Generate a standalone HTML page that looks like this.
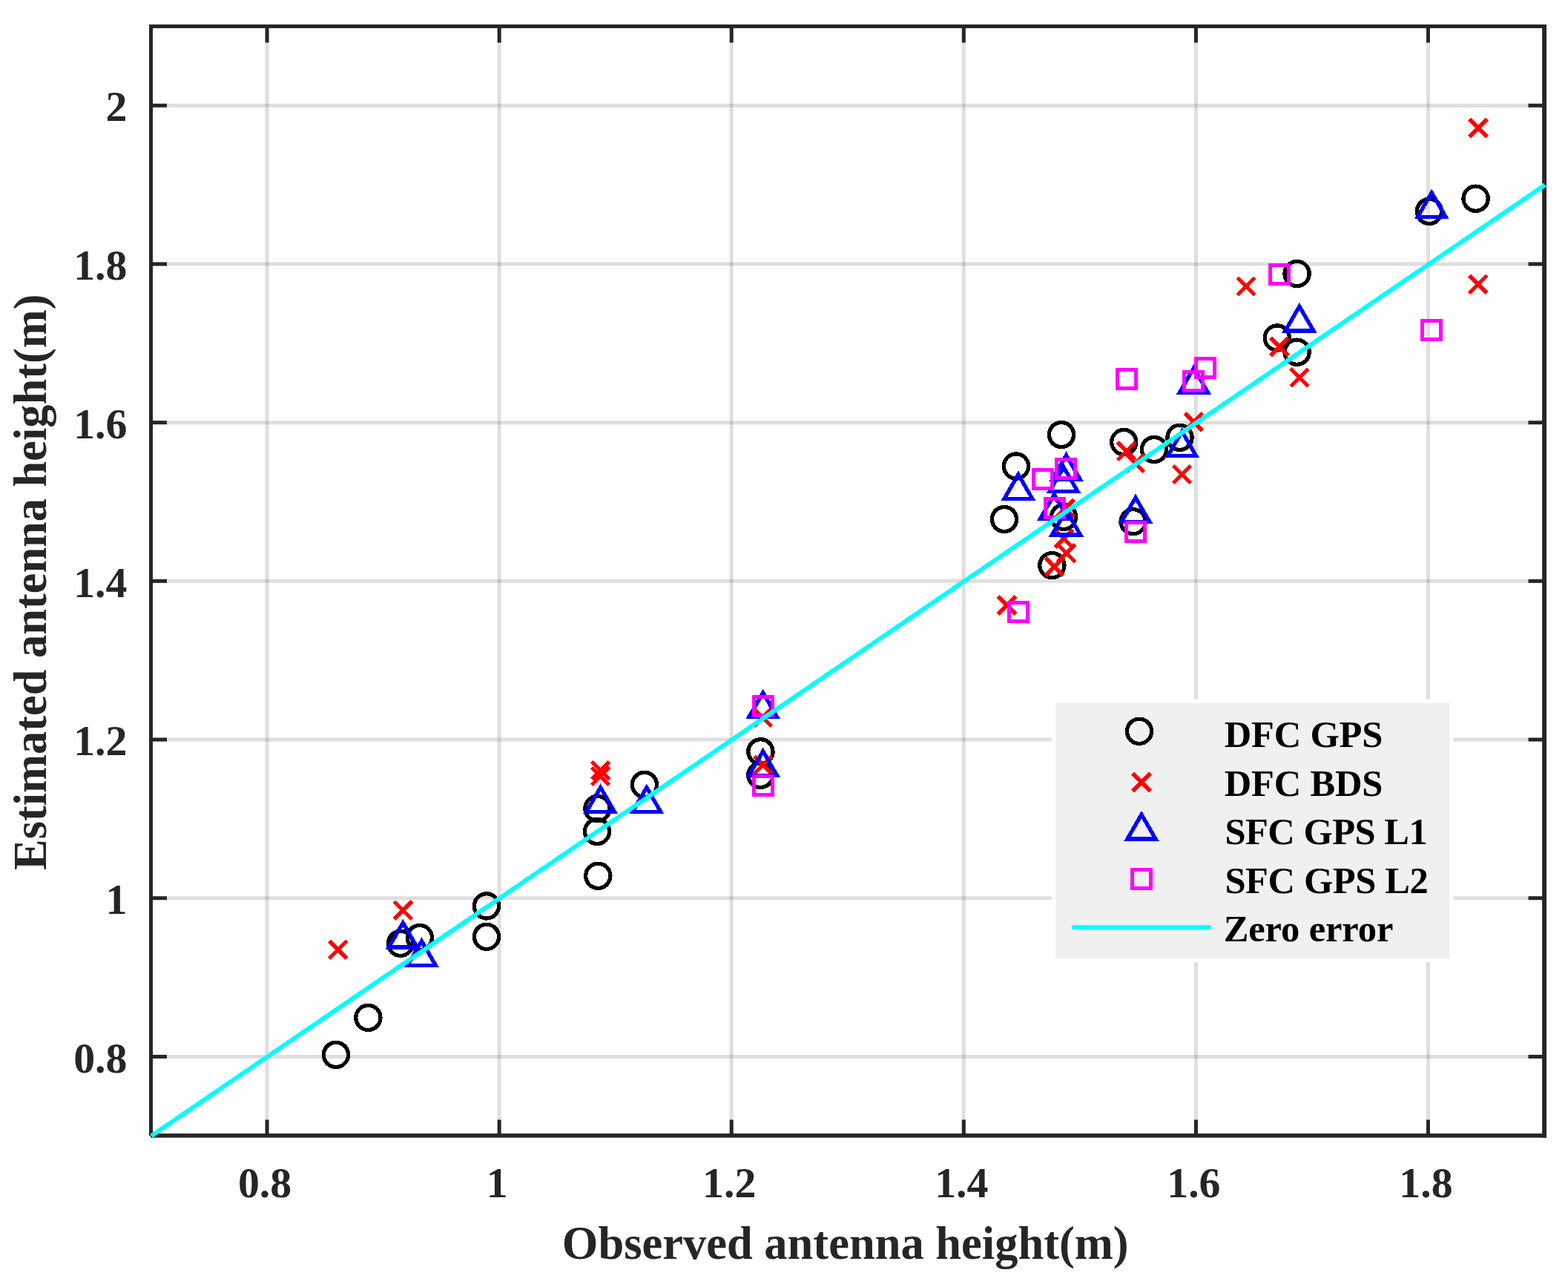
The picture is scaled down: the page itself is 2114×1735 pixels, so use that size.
<!DOCTYPE html>
<html><head><meta charset="utf-8"><title>Estimated vs observed antenna height</title>
<style>html,body{margin:0;padding:0;background:#fff;}svg{display:block;}
text{font-family:"Liberation Serif","Times New Roman",serif;font-weight:bold;}</style>
</head><body>
<svg width="2114" height="1735" viewBox="0 0 2114 1735">
<rect width="2114" height="1735" fill="#fff"/>

<g stroke="#262626" stroke-opacity="0.15" stroke-width="5" fill="none">
<line x1="360.04" y1="38" x2="360.04" y2="1528.1"/>
<line x1="673.12" y1="38" x2="673.12" y2="1528.1"/>
<line x1="986.21" y1="38" x2="986.21" y2="1528.1"/>
<line x1="1299.29" y1="38" x2="1299.29" y2="1528.1"/>
<line x1="1612.38" y1="38" x2="1612.38" y2="1528.1"/>
<line x1="1925.46" y1="38" x2="1925.46" y2="1528.1"/>
<line x1="206" y1="1424.45" x2="2079.1" y2="1424.45"/>
<line x1="206" y1="1210.75" x2="2079.1" y2="1210.75"/>
<line x1="206" y1="997.05" x2="2079.1" y2="997.05"/>
<line x1="206" y1="783.35" x2="2079.1" y2="783.35"/>
<line x1="206" y1="569.65" x2="2079.1" y2="569.65"/>
<line x1="206" y1="355.95" x2="2079.1" y2="355.95"/>
<line x1="206" y1="142.25" x2="2079.1" y2="142.25"/>
</g>
<g fill="#262626"><rect x="201" y="33" width="1884" height="5"/><rect x="201" y="33" width="5" height="1498"/><rect x="203" y="1528.1" width="1882" height="5.6"/><rect x="2079.1" y="33" width="5.9" height="1500.7"/></g>
<g stroke="#262626" stroke-width="5" fill="none" stroke-linecap="square">
<line x1="360.04" y1="1529" x2="360.04" y2="1512"/>
<line x1="360.04" y1="38" x2="360.04" y2="55"/>
<line x1="673.12" y1="1529" x2="673.12" y2="1512"/>
<line x1="673.12" y1="38" x2="673.12" y2="55"/>
<line x1="986.21" y1="1529" x2="986.21" y2="1512"/>
<line x1="986.21" y1="38" x2="986.21" y2="55"/>
<line x1="1299.29" y1="1529" x2="1299.29" y2="1512"/>
<line x1="1299.29" y1="38" x2="1299.29" y2="55"/>
<line x1="1612.38" y1="1529" x2="1612.38" y2="1512"/>
<line x1="1612.38" y1="38" x2="1612.38" y2="55"/>
<line x1="1925.46" y1="1529" x2="1925.46" y2="1512"/>
<line x1="1925.46" y1="38" x2="1925.46" y2="55"/>
<line x1="206" y1="1424.45" x2="222.5" y2="1424.45"/>
<line x1="2079.5" y1="1424.45" x2="2063" y2="1424.45"/>
<line x1="206" y1="1210.75" x2="222.5" y2="1210.75"/>
<line x1="2079.5" y1="1210.75" x2="2063" y2="1210.75"/>
<line x1="206" y1="997.05" x2="222.5" y2="997.05"/>
<line x1="2079.5" y1="997.05" x2="2063" y2="997.05"/>
<line x1="206" y1="783.35" x2="222.5" y2="783.35"/>
<line x1="2079.5" y1="783.35" x2="2063" y2="783.35"/>
<line x1="206" y1="569.65" x2="222.5" y2="569.65"/>
<line x1="2079.5" y1="569.65" x2="2063" y2="569.65"/>
<line x1="206" y1="355.95" x2="222.5" y2="355.95"/>
<line x1="2079.5" y1="355.95" x2="2063" y2="355.95"/>
<line x1="206" y1="142.25" x2="222.5" y2="142.25"/>
<line x1="2079.5" y1="142.25" x2="2063" y2="142.25"/>
</g>
<g fill="#262626" font-size="57.8">
<text x="357.04" y="1614.1" text-anchor="middle">0.8</text>
<text x="670.12" y="1614.1" text-anchor="middle">1</text>
<text x="983.21" y="1614.1" text-anchor="middle">1.2</text>
<text x="1296.29" y="1614.1" text-anchor="middle">1.4</text>
<text x="1609.38" y="1614.1" text-anchor="middle">1.6</text>
<text x="1922.46" y="1614.1" text-anchor="middle">1.8</text>
<text x="171.4" y="1445.65" text-anchor="end">0.8</text>
<text x="171.4" y="1231.95" text-anchor="end">1</text>
<text x="171.4" y="1018.25" text-anchor="end">1.2</text>
<text x="171.4" y="804.55" text-anchor="end">1.4</text>
<text x="171.4" y="590.85" text-anchor="end">1.6</text>
<text x="171.4" y="377.15" text-anchor="end">1.8</text>
<text x="171.4" y="163.45" text-anchor="end">2</text>
</g>
<text x="757.8" y="1697" font-size="62.5" fill="#262626">Observed antenna height(m)</text>
<text transform="translate(62 1172.9) rotate(-90)" font-size="62.4" fill="#262626">Estimated antenna height(m)</text>
<g fill="none" stroke="#000" stroke-width="5.3" shape-rendering="crispEdges"><circle cx="452.9" cy="1421.9" r="16.6"/><circle cx="496.4" cy="1371.9" r="16.6"/><circle cx="540" cy="1271.8" r="16.6"/><circle cx="565.8" cy="1264" r="16.6"/><circle cx="656" cy="1221.4" r="16.6"/><circle cx="656" cy="1262.8" r="16.6"/><circle cx="805.5" cy="1090" r="16.6"/><circle cx="805" cy="1120.9" r="16.6"/><circle cx="806.3" cy="1180.8" r="16.6"/><circle cx="868.9" cy="1057.8" r="16.6"/><circle cx="1025.4" cy="1013.3" r="16.6"/><circle cx="1025.4" cy="1044.9" r="16.6"/><circle cx="1370" cy="628.5" r="16.6"/><circle cx="1354" cy="700" r="16.6"/><circle cx="1431" cy="586" r="16.6"/><circle cx="1434" cy="697" r="16.6"/><circle cx="1418.4" cy="762.1" r="16.6"/><circle cx="1515.3" cy="596" r="16.6"/><circle cx="1556" cy="606" r="16.6"/><circle cx="1590.5" cy="589.8" r="16.6"/><circle cx="1527.7" cy="703.2" r="16.6"/><circle cx="1748.6" cy="369" r="16.6"/><circle cx="1721.8" cy="455.5" r="16.6"/><circle cx="1748.6" cy="474.7" r="16.6"/><circle cx="1989.6" cy="267.7" r="16.6"/><circle cx="1926.9" cy="284.9" r="16.6"/></g>
<g fill="none" stroke="#f00" stroke-width="5.3" shape-rendering="crispEdges"><path d="M443.9 1268.2L467.7 1292M443.9 1292L467.7 1268.2"/><path d="M531.5 1215.3L555.3 1239.1M531.5 1239.1L555.3 1215.3"/><path d="M797.7 1026.8L821.5 1050.6M797.7 1050.6L821.5 1026.8"/><path d="M797.7 1034.5L821.5 1058.3M797.7 1058.3L821.5 1034.5"/><path d="M1016.5 955.3L1040.3 979.1M1016.5 979.1L1040.3 955.3"/><path d="M1016.8 1019.3L1040.6 1043.1M1016.8 1043.1L1040.6 1019.3"/><path d="M1424.1 673.6L1447.9 697.4M1424.1 697.4L1447.9 673.6"/><path d="M1422.5 714.3L1446.3 738.1M1422.5 738.1L1446.3 714.3"/><path d="M1425.8 733.8L1449.6 757.6M1425.8 757.6L1449.6 733.8"/><path d="M1409.6 752.1L1433.4 775.9M1409.6 775.9L1433.4 752.1"/><path d="M1345.6 803.9L1369.4 827.7M1345.6 827.7L1369.4 803.9"/><path d="M1506.7 596.3L1530.5 620.1M1506.7 620.1L1530.5 596.3"/><path d="M1518.7 612.7L1542.5 636.5M1518.7 636.5L1542.5 612.7"/><path d="M1581.7 627.7L1605.5 651.5M1581.7 651.5L1605.5 627.7"/><path d="M1597.5 556.9L1621.3 580.7M1597.5 580.7L1621.3 556.9"/><path d="M1668.1 374.1L1691.9 397.9M1668.1 397.9L1691.9 374.1"/><path d="M1713.2 455.7L1737 479.5M1713.2 479.5L1737 455.7"/><path d="M1740 497L1763.8 520.8M1740 520.8L1763.8 497"/><path d="M1981.1 160.5L2004.9 184.3M1981.1 184.3L2004.9 160.5"/><path d="M1980.9 371.2L2004.7 395M1980.9 395L2004.7 371.2"/></g>
<g fill="none" stroke="#00f" stroke-width="5.3" stroke-linejoin="miter" shape-rendering="crispEdges"><path d="M543.3 1244L562.35 1277L524.25 1277Z"/><path d="M568.5 1268.7L587.55 1301.7L549.45 1301.7Z"/><path d="M809.6 1061.6L828.65 1094.6L790.55 1094.6Z"/><path d="M871.8 1061.6L890.85 1094.6L852.75 1094.6Z"/><path d="M1028.7 933.8L1047.75 966.8L1009.65 966.8Z"/><path d="M1028.7 1012.7L1047.75 1045.7L1009.65 1045.7Z"/><path d="M1372.9 639.6L1391.95 672.6L1353.85 672.6Z"/><path d="M1437.5 613.8L1456.55 646.8L1418.45 646.8Z"/><path d="M1434 629.7L1453.05 662.7L1414.95 662.7Z"/><path d="M1421.3 666.7L1440.35 699.7L1402.25 699.7Z"/><path d="M1437.5 687.9L1456.55 720.9L1418.45 720.9Z"/><path d="M1593.6 581.6L1612.65 614.6L1574.55 614.6Z"/><path d="M1531 670.8L1550.05 703.8L1511.95 703.8Z"/><path d="M1609.4 496.1L1628.45 529.1L1590.35 529.1Z"/><path d="M1751.9 413L1770.95 446L1732.85 446Z"/><path d="M1930.2 259.8L1949.25 292.8L1911.15 292.8Z"/></g>
<g fill="none" stroke="#f0f" stroke-width="5.3" shape-rendering="crispEdges"><rect x="1016.5" y="939.4" width="25" height="25"/><rect x="1016.5" y="1046.3" width="25" height="25"/><rect x="1393.3" y="633.4" width="25" height="25"/><rect x="1424.5" y="619.3" width="25" height="25"/><rect x="1409.5" y="672.5" width="25" height="25"/><rect x="1360.3" y="812.3" width="25" height="25"/><rect x="1506.4" y="498.5" width="25" height="25"/><rect x="1518.3" y="704.4" width="25" height="25"/><rect x="1596.5" y="501.4" width="25" height="25"/><rect x="1612.4" y="483.4" width="25" height="25"/><rect x="1712.4" y="357.3" width="25" height="25"/><rect x="1917.3" y="432.4" width="25" height="25"/></g>
<line x1="204" y1="1531.3" x2="2083" y2="249.3" stroke="#0ff" stroke-width="6" stroke-linecap="butt" shape-rendering="crispEdges"/>
<rect x="1420.5" y="945" width="536.5" height="349.5" fill="#f0f0f0" stroke="#fff" stroke-width="5"/>
<g fill="none" stroke-width="5.3" shape-rendering="crispEdges">
<circle cx="1536" cy="985.8" r="16.6" stroke="#000"/>
<g stroke="#f00"><path d="M1527.1 1042.4L1550.9 1066.2M1527.1 1066.2L1550.9 1042.4"/></g>
<g stroke="#00f"><path d="M1539 1098L1558.05 1131L1519.95 1131Z"/></g>
<g stroke="#f0f"><rect x="1526.5" y="1172.5" width="25" height="25"/></g>
</g>
<line x1="1445.3" y1="1250.2" x2="1632.6" y2="1250.2" stroke="#0ff" stroke-width="6"/>
<g fill="#000" font-size="50.5">
<text x="1650.7" y="1007" textLength="213.6" lengthAdjust="spacing">DFC GPS</text>
<text x="1650.7" y="1072.5" textLength="213.7" lengthAdjust="spacing">DFC BDS</text>
<text x="1651.4" y="1138" textLength="273.3" lengthAdjust="spacing">SFC GPS L1</text>
<text x="1651.4" y="1203.5" textLength="274.3" lengthAdjust="spacing">SFC GPS L2</text>
<text x="1649.7" y="1269" textLength="228.6" lengthAdjust="spacing">Zero error</text>
</g>
</svg>
</body></html>
